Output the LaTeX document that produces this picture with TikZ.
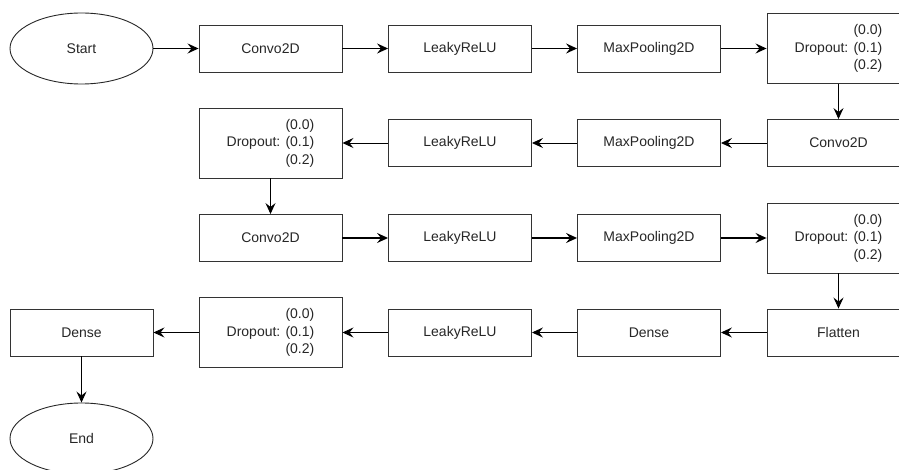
\documentclass[tikz,border=0pt]{standalone}
\usepackage{fontspec}
\setmainfont{Liberation Sans}
\usetikzlibrary{shapes.geometric,arrows.meta}
\tikzset{
  lbl/.style={font=\fontsize{14pt}{17.5pt}\selectfont, text=black!85},
  blk/.style={lbl, draw=black!80, line width=0.9pt, rectangle, minimum width=143pt, minimum height=47pt, inner sep=0pt},
  drop/.style={blk, minimum height=70pt, align=right},
  term/.style={lbl, draw=black!85, line width=0.9pt, ellipse, minimum width=143pt, minimum height=71pt, inner sep=0pt},
  tip/.style={-{Stealth[length=11pt,width=10pt,inset=4pt]}},
  thick arrow/.style={tip, line width=1.6pt},
  thin arrow/.style={tip, line width=0.9pt}
}
\begin{document}
\begin{tikzpicture}[x=1pt,y=-1pt]
\useasboundingbox (0,0) rectangle (899,470);
\clip (0,0) rectangle (899,470);
% row 1
\node[term] (start) at (81.5,48.5) {Start};
\node[blk] (c1) at (270.5,48.5) {Convo2D};
\node[blk] (l1) at (460,48.5) {LeakyReLU};
\node[blk] (m1) at (649,48.5) {MaxPooling2D};
\node[drop] (d1) at (838.5,48.5) {(0.0)\\Dropout: (0.1)\\(0.2)};
% row 2
\node[blk] (c2) at (838.5,143) {Convo2D};
\node[blk] (m2) at (649,143) {MaxPooling2D};
\node[blk] (l2) at (460,143) {LeakyReLU};
\node[drop] (d2) at (270.5,143) {(0.0)\\Dropout: (0.1)\\(0.2)};
% row 3
\node[blk] (c3) at (270.5,238) {Convo2D};
\node[blk] (l3) at (460,238) {LeakyReLU};
\node[blk] (m3) at (649,238) {MaxPooling2D};
\node[drop] (d3) at (838.5,238) {(0.0)\\Dropout: (0.1)\\(0.2)};
% row 4
\node[blk] (f4) at (838.5,332.5) {Flatten};
\node[blk] (de4) at (649,332.5) {Dense};
\node[blk] (l4) at (460,332.5) {LeakyReLU};
\node[drop] (d4) at (270.5,332.5) {(0.0)\\Dropout: (0.1)\\(0.2)};
\node[blk] (de5) at (81.5,332.5) {Dense};
\node[term] (end) at (81.5,438.5) {End};
% connectors
\draw[thick arrow] (start) -- (c1);
\draw[thick arrow] (c1) -- (l1);
\draw[thick arrow] (l1) -- (m1);
\draw[thick arrow] (m1) -- (d1);
\draw[thin arrow] (d1) -- (c2);
\draw[thin arrow] (c2) -- (m2);
\draw[thin arrow] (m2) -- (l2);
\draw[thin arrow] (l2) -- (d2);
\draw[thin arrow] (d2) -- (c3);
\draw[thick arrow] (c3) -- (l3);
\draw[thick arrow] (l3) -- (m3);
\draw[thick arrow] (m3) -- (d3);
\draw[thin arrow] (d3) -- (f4);
\draw[thin arrow] (f4) -- (de4);
\draw[thin arrow] (de4) -- (l4);
\draw[thin arrow] (l4) -- (d4);
\draw[thin arrow] (d4) -- (de5);
\draw[thin arrow] (de5) -- (end);
\end{tikzpicture}
\end{document}
